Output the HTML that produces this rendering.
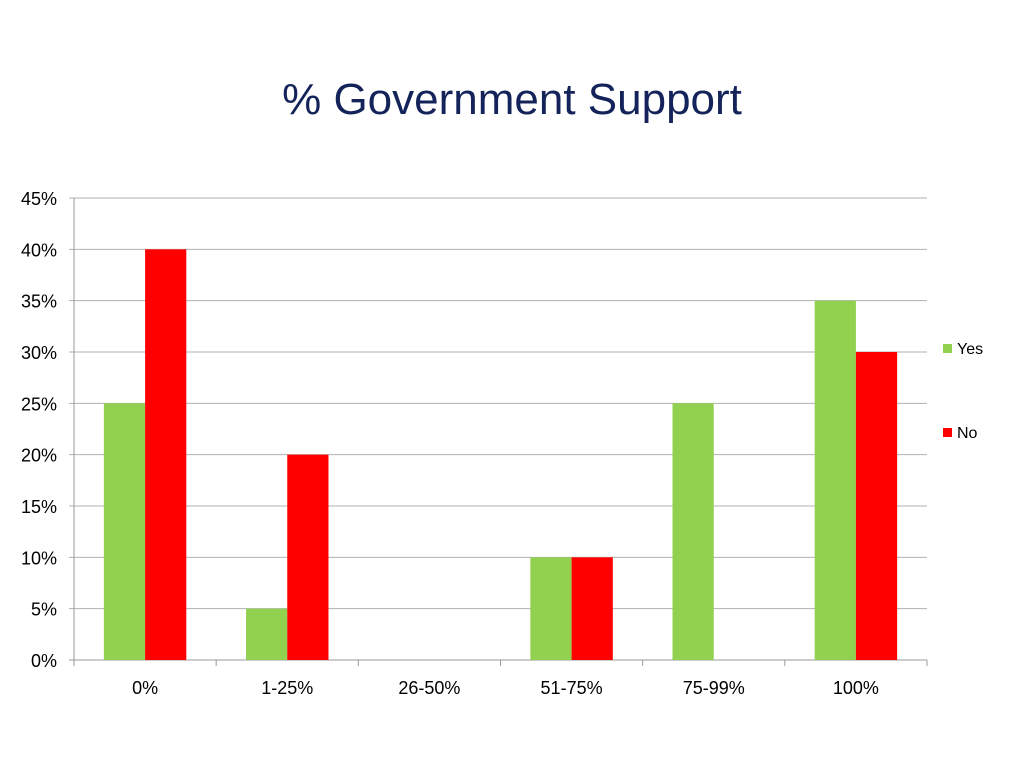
<!DOCTYPE html>
<html><head><meta charset="utf-8"><style>
body{margin:0;background:#fff;width:1024px;height:768px;overflow:hidden;font-family:"Liberation Sans",sans-serif}
</style></head><body>
<svg width="1024" height="768">
<text x="512" y="114" text-anchor="middle" font-size="44" fill="#14245a" font-family="Liberation Sans, sans-serif">% Government Support</text>
<g id="grid"></g><g id="bars"></g><g id="axes"></g>
<g>
<rect x="943" y="344" width="9" height="9" fill="#92d050"/>
<text x="957" y="354" font-size="16" fill="#000">Yes</text>
<rect x="943" y="428" width="9" height="9" fill="#ff0000"/>
<text x="957" y="438" font-size="16" fill="#000">No</text>
</g>
</svg>
<script>
const categories=["0%","1-25%","26-50%","51-75%","75-99%","100%"];
const yesValues=[25,5,0,10,25,35];
const noValues=[40,20,0,10,0,30];
const yTicks=[0,5,10,15,20,25,30,35,40,45];
const X0=74,X1=927,Y0=660,Y1=198,YMAX=45;
const ns="http://www.w3.org/2000/svg";
const y=v=>Y0-(v/YMAX)*(Y0-Y1);
const bw=(X1-X0)/categories.length;
const xc=i=>X0+bw*(i+0.5);
function mk(t,a,p){const e=document.createElementNS(ns,t);for(const k in a)e.setAttribute(k,a[k]);p.appendChild(e);return e;}
const G=document.getElementById('grid'),B=document.getElementById('bars'),A=document.getElementById('axes');
yTicks.forEach(v=>{
 const l=mk('line',{x1:X0-5,x2:X1,y1:y(v),y2:y(v),stroke:v===0?'#999':'#b0b0b0','stroke-width':1},G);
 
 
 const t=mk('text',{x:57,y:y(v)+7,'text-anchor':'end','font-size':18,fill:'#000'},A);
 t.textContent=v+'%';
 
 
});
const ax=mk('line',{x1:X0,x2:X0,y1:Y1,y2:Y0,stroke:'#999'},A);


const barW=bw*0.29;
categories.forEach((c,i)=>{
 const tk=mk('line',{x1:X0+bw*(i+1),x2:X0+bw*(i+1),y1:Y0,y2:Y0+6,stroke:'#999'},A);
 
 
 if(i===0){const t0=mk('line',{x1:X0,x2:X0,y1:Y0,y2:Y0+6,stroke:'#999'},A);}
 const t=mk('text',{x:xc(i),y:Y0+34,'text-anchor':'middle','font-size':18,fill:'#000'},A);
 t.textContent=c;
 
 
 const g=mk('rect',{x:xc(i)-barW,y:y(yesValues[i]),width:barW,height:Y0-y(yesValues[i]),fill:'#92d050'},B);
 
 
 const r=mk('rect',{x:xc(i),y:y(noValues[i]),width:barW,height:Y0-y(noValues[i]),fill:'#ff0000'},B);
 
 
});
</script>
</body></html>
